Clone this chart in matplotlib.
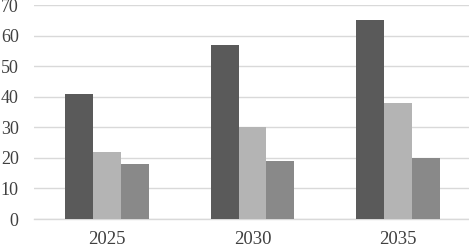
import matplotlib.pyplot as plt
import numpy as np

# Data
years = ['2025', '2030', '2035']
series_a = [41, 57, 65]
series_b = [22, 30, 38]
series_c = [18, 19, 20]

colors = ['#5a5a5a', '#b4b4b4', '#898989']

plt.rcParams['font.family'] = ['Liberation Serif', 'DejaVu Serif']

fig = plt.figure(figsize=(4.69, 2.48), dpi=100)
ax = fig.add_axes([34 / 469, 1 - 219 / 248, 437 / 469, 214 / 248])

x = np.arange(len(years))
w = 0.192
ax.bar(x - w, series_a, width=w, color=colors[0], zorder=3)
ax.bar(x, series_b, width=w, color=colors[1], zorder=3)
ax.bar(x + w, series_c, width=w, color=colors[2], zorder=3)

ax.set_xlim(-0.5, 2.5)
ax.set_ylim(0, 70)
ax.set_yticks(range(0, 71, 10))
ax.set_xticks(x, years)

ax.grid(axis='y', color='#d9d9d9', linewidth=1.0, zorder=0)
for s in ['top', 'right', 'left']:
    ax.spines[s].set_visible(False)
ax.spines['bottom'].set_color('#d9d9d9')
ax.spines['bottom'].set_linewidth(1.0)

ax.tick_params(axis='y', length=0, pad=11, labelsize=13, labelcolor='#404040')
ax.tick_params(axis='x', length=0, pad=9, labelsize=13.5, labelcolor='#404040')

fig.savefig('out.png', dpi=100)
